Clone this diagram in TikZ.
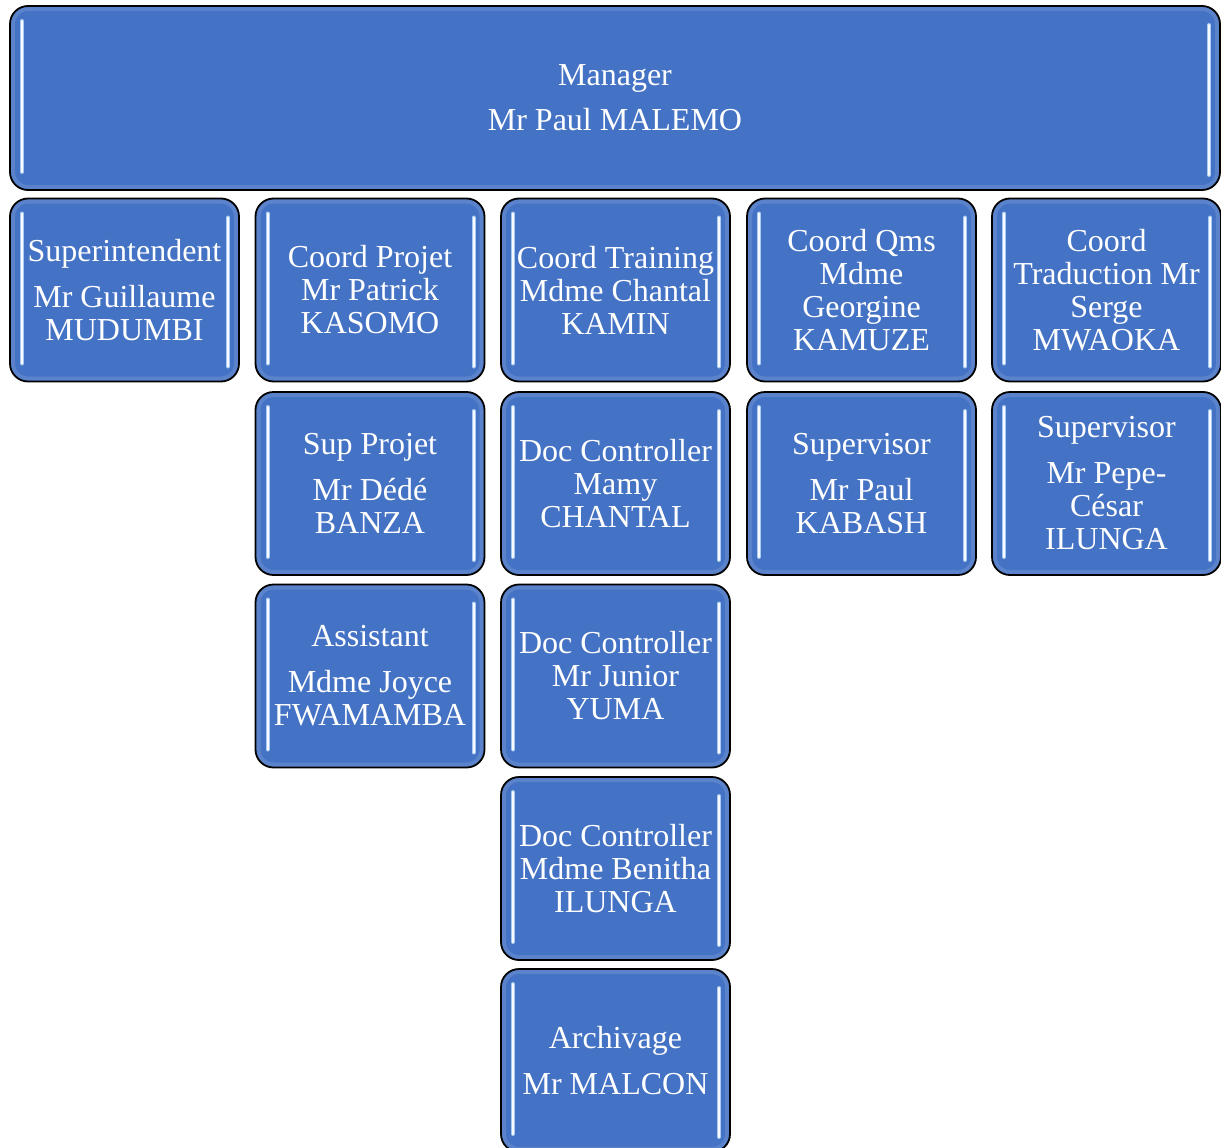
\documentclass[tikz,border=0pt]{standalone}
\usepackage{fontspec}
\setmainfont{Liberation Serif}
\definecolor{boxblue}{HTML}{4472C4}
\definecolor{barblue}{HTML}{A9CBF2}
\tikzset{
  orgbox/.style={draw=black, line width=1.8pt, fill=boxblue, rounded corners=18pt,
    minimum width=229pt, minimum height=183pt, inner sep=0pt, text=white,
    align=center, font=\fontsize{32}{33}\selectfont,
    path picture={
      \draw[white, opacity=0.12, line width=10pt] (path picture bounding box.north west) rectangle (path picture bounding box.south east);
      \draw[barblue, line width=4pt, line cap=round] ([xshift=12pt,yshift=-15pt]path picture bounding box.north west) -- ([xshift=12pt,yshift=18pt]path picture bounding box.south west);
      \draw[white!90!barblue, line width=2pt, line cap=round] ([xshift=12pt,yshift=-15pt]path picture bounding box.north west) -- ([xshift=12pt,yshift=18pt]path picture bounding box.south west);
      \draw[barblue, line width=4pt, line cap=round] ([xshift=-11pt,yshift=-19pt]path picture bounding box.north east) -- ([xshift=-11pt,yshift=15pt]path picture bounding box.south east);
      \draw[white!90!barblue, line width=2pt, line cap=round] ([xshift=-11pt,yshift=-19pt]path picture bounding box.north east) -- ([xshift=-11pt,yshift=15pt]path picture bounding box.south east);
    }},
}
\begin{document}
\begin{tikzpicture}[x=1pt,y=-1pt]
\useasboundingbox (0,0) rectangle (1221,1148);
\clip (0,0) rectangle (1221,1148);
% manager
\node[orgbox, minimum width=1210pt, minimum height=184pt] (manager) at (615,98) {Manager\\[12pt] Mr Paul MALEMO};
% first row
\node[orgbox] (superint) at (124.5,290) {Superintendent\\[13pt] Mr Guillaume\\ MUDUMBI};
\node[orgbox] (coordprojet) at (370,290) {Coord Projet\\ Mr Patrick\\ KASOMO};
\node[orgbox] (coordtraining) at (615.5,290) {Coord Training\\ Mdme Chantal\\ KAMIN};
\node[orgbox] (coordqms) at (861.5,290) {Coord Qms\\ Mdme\\ Georgine\\ KAMUZE};
\node[orgbox] (coordtrad) at (1106.5,290) {Coord\\ Traduction Mr\\ Serge\\ MWAOKA};
% second row
\node[orgbox] (supprojet) at (370,483.5) {Sup Projet\\[13pt] Mr Dédé\\ BANZA};
\node[orgbox] (docmamy) at (615.5,483.5) {Doc Controller\\ Mamy\\ CHANTAL};
\node[orgbox] (supkabash) at (861.5,483.5) {Supervisor\\[13pt] Mr Paul\\ KABASH};
\node[orgbox] (supilunga) at (1106.5,483.5) {Supervisor\\[13pt] Mr Pepe-\\ César\\ ILUNGA};
% third row and below
\node[orgbox] (assistant) at (370,676) {Assistant\\[13pt] Mdme Joyce\\ FWAMAMBA};
\node[orgbox] (docyuma) at (615.5,676) {Doc Controller\\ Mr Junior\\ YUMA};
\node[orgbox] (docilunga) at (615.5,868.5) {Doc Controller\\ Mdme Benitha\\ ILUNGA};
\node[orgbox] (archivage) at (615.5,1060.5) {Archivage\\[13pt] Mr MALCON};
\end{tikzpicture}
\end{document}
